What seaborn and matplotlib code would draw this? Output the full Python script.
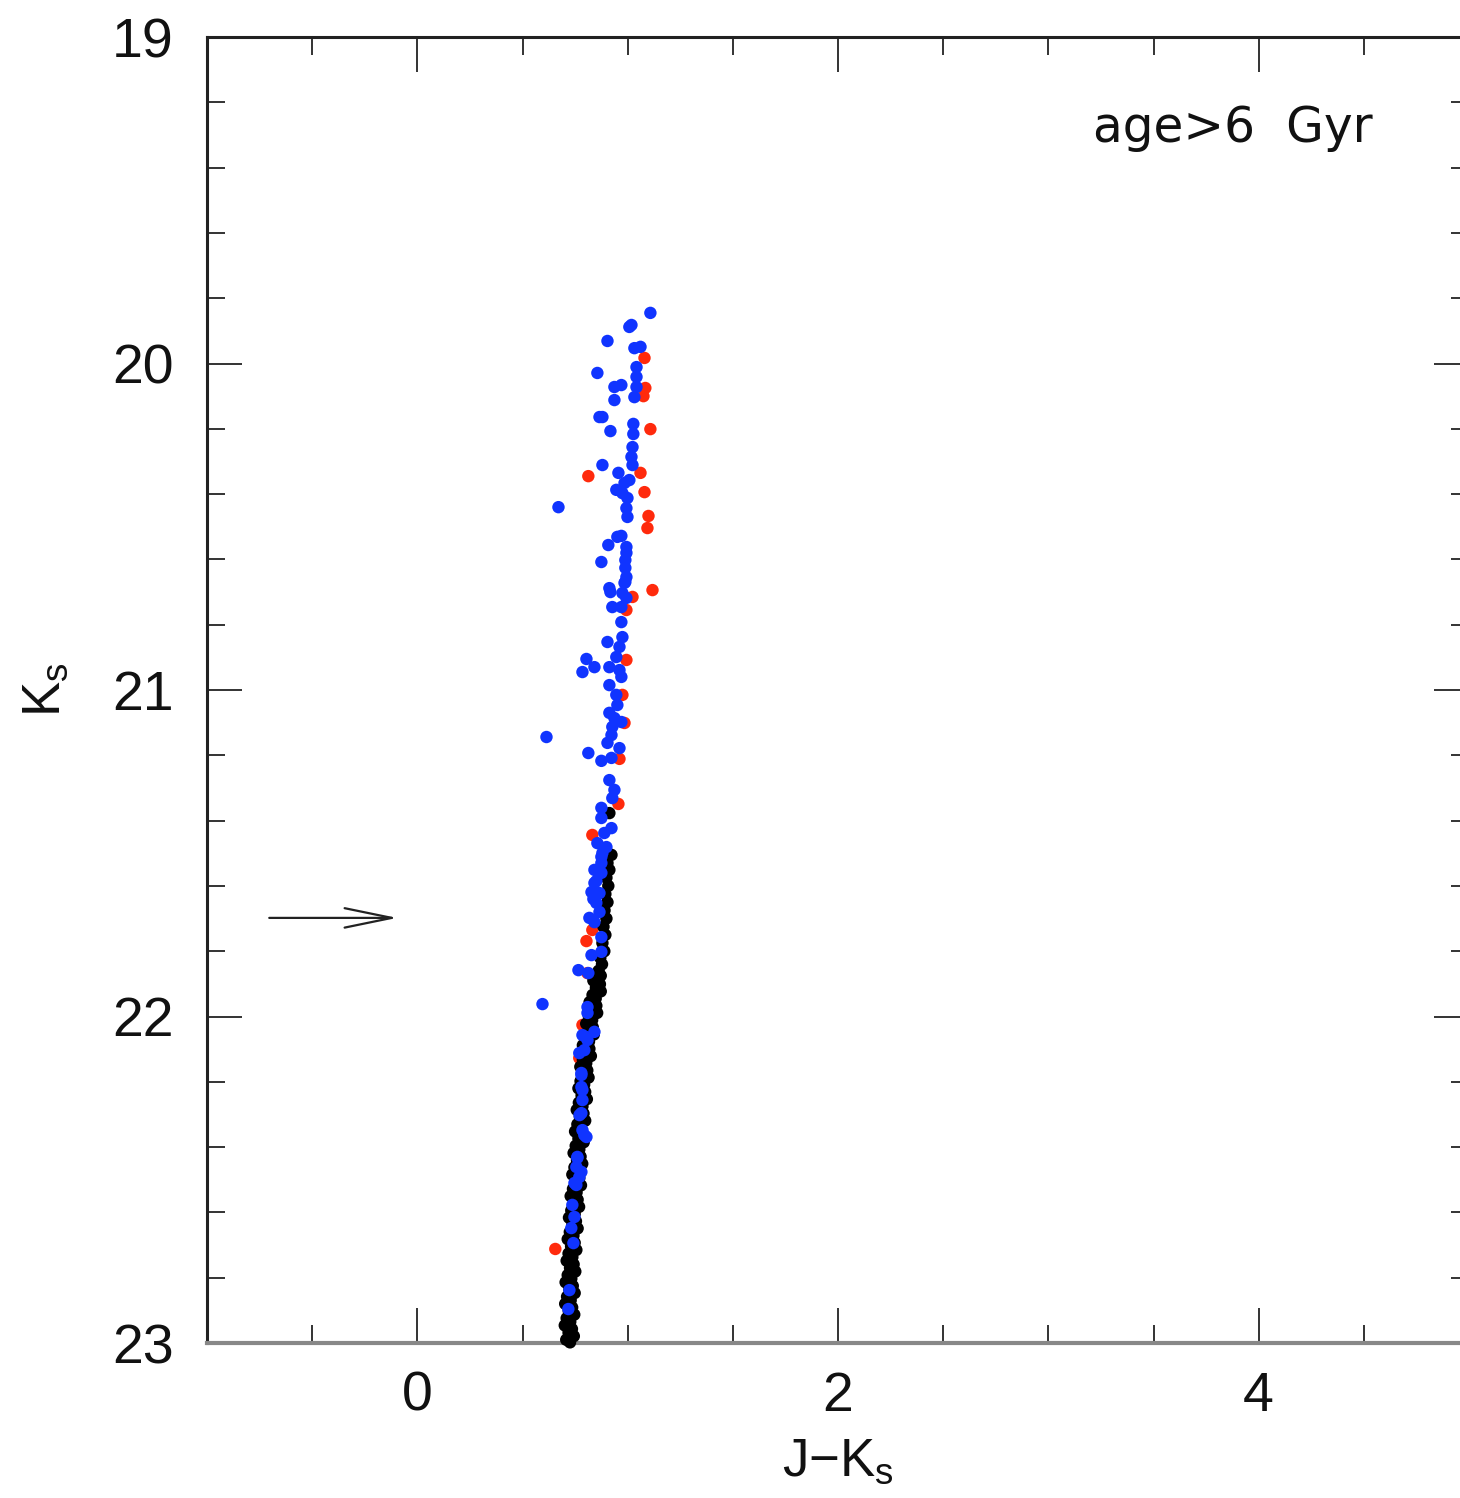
import numpy as np
import pandas as pd
import matplotlib
matplotlib.use("Agg")
import matplotlib.pyplot as plt
from matplotlib.ticker import MultipleLocator
import seaborn as sns

# ---------------- data (J-Ks colour, Ks magnitude) ----------------
blue_x = [1.108, 1.008, 1.018, 0.904, 1.032, 1.061, 0.856, 1.042, 1.042, 0.937,
          0.970, 1.042, 1.032, 0.937, 0.866, 0.880, 0.918, 1.027, 1.027, 1.023,
          1.018, 1.023, 0.880, 0.956, 1.008, 0.985, 0.946, 0.975, 0.999, 0.671,
          0.994, 0.999, 0.951, 0.970, 0.908, 0.994, 0.994, 0.875, 0.989, 0.989,
          0.994, 0.985, 0.913, 0.989, 0.918, 0.975, 0.994, 0.927, 0.970, 0.970,
          0.975, 0.904, 0.961, 0.946, 0.804, 0.842, 0.785, 0.913, 0.961, 0.970,
          0.913, 0.946, 0.951, 0.913, 0.937, 0.970, 0.927, 0.923, 0.614, 0.904,
          0.961, 0.813, 0.875, 0.923, 0.913, 0.937, 0.927, 0.875, 0.875, 0.923,
          0.889, 0.856, 0.899, 0.875, 0.842, 0.875, 0.880, 0.875, 0.842, 0.828,
          0.866, 0.851, 0.866, 0.818, 0.842, 0.875, 0.828, 0.875, 0.766, 0.809,
          0.809, 0.595, 0.842, 0.804, 0.794, 0.780, 0.785, 0.785, 0.771, 0.794,
          0.761, 0.780, 0.756, 0.737, 0.747, 0.732, 0.742, 0.723, 0.718, 0.785,
          0.809, 0.770, 0.780, 0.780, 0.780, 0.785, 0.804, 0.761, 0.756, 0.770,
          0.747, 0.813, 0.851, 0.837]
blue_k = [19.845, 19.888, 19.882, 19.931, 19.953, 19.949, 20.029, 20.011, 20.041, 20.072,
          20.066, 20.072, 20.103, 20.112, 20.164, 20.164, 20.207, 20.185, 20.216, 20.256,
          20.286, 20.311, 20.311, 20.335, 20.357, 20.366, 20.387, 20.397, 20.412, 20.440,
          20.443, 20.470, 20.531, 20.528, 20.556, 20.562, 20.580, 20.608, 20.602, 20.626,
          20.654, 20.672, 20.688, 20.669, 20.700, 20.703, 20.718, 20.746, 20.746, 20.792,
          20.838, 20.853, 20.868, 20.899, 20.905, 20.930, 20.945, 20.930, 20.939, 20.960,
          20.985, 21.015, 21.046, 21.070, 21.086, 21.098, 21.113, 21.138, 21.144, 21.162,
          21.178, 21.193, 21.217, 21.208, 21.276, 21.306, 21.331, 21.361, 21.392, 21.423,
          21.438, 21.469, 21.481, 21.511, 21.551, 21.560, 21.499, 21.530, 21.591, 21.619,
          21.622, 21.652, 21.680, 21.698, 21.711, 21.757, 21.812, 21.802, 21.858, 21.971,
          21.989, 21.962, 22.047, 22.063, 22.103, 22.179, 22.225, 22.256, 22.302, 22.363,
          22.433, 22.476, 22.516, 22.577, 22.614, 22.648, 22.694, 22.838, 22.896, 22.057,
          22.072, 22.112, 22.173, 22.216, 22.296, 22.348, 22.369, 22.430, 22.461, 22.492,
          22.510, 21.867, 21.585, 21.640]

red_x = [1.080, 1.084, 1.075, 1.108, 0.813, 1.061, 1.080, 1.099, 1.094, 1.118,
         1.023, 0.994, 0.994, 0.975, 0.985, 0.961, 0.956, 0.832, 0.832, 0.804,
         0.809, 0.785, 0.770, 0.656]
red_k = [19.983, 20.075, 20.100, 20.201, 20.345, 20.335, 20.394, 20.467, 20.504, 20.694,
         20.715, 20.755, 20.908, 21.015, 21.101, 21.211, 21.349, 21.444, 21.735, 21.769,
         21.867, 22.026, 22.127, 22.712]

black_x = [0.913, 0.923, 0.904, 0.913, 0.899, 0.908, 0.894, 0.904, 0.890, 0.899,
           0.885, 0.894, 0.880, 0.889, 0.870, 0.878, 0.862, 0.872,
           0.837, 0.868, 0.849, 0.872, 0.833, 0.848, 0.819, 0.851, 0.832, 0.855,
           0.816, 0.831, 0.803, 0.834, 0.815, 0.839, 0.800, 0.816, 0.787, 0.818,
           0.800, 0.825, 0.787, 0.803, 0.775, 0.808, 0.790, 0.814, 0.776, 0.793,
           0.766, 0.798, 0.781, 0.806, 0.768, 0.785, 0.758, 0.790, 0.773, 0.798,
           0.761, 0.777, 0.750, 0.783, 0.766, 0.791, 0.753, 0.770, 0.743, 0.776,
           0.759, 0.784, 0.747, 0.764, 0.737, 0.770, 0.753, 0.778, 0.740, 0.757,
           0.729, 0.762, 0.745, 0.769, 0.732, 0.748, 0.721, 0.754, 0.737, 0.762,
           0.725, 0.742, 0.715, 0.748, 0.731, 0.756, 0.719, 0.737, 0.710, 0.743,
           0.726, 0.751, 0.715, 0.732, 0.705, 0.739, 0.723, 0.748, 0.712, 0.729,
           0.703, 0.736, 0.720, 0.746, 0.710, 0.727, 0.701, 0.735, 0.719, 0.744,
           0.708, 0.726]
black_k = [21.377, 21.505, 21.530, 21.551, 21.575, 21.600, 21.625, 21.650, 21.675, 21.700,
           21.725, 21.750, 21.775, 21.800, 21.820, 21.840, 21.860, 21.875,
           21.890, 21.901, 21.912, 21.923, 21.934, 21.945, 21.956, 21.967, 21.978, 21.989,
           22.000, 22.011, 22.022, 22.033, 22.044, 22.055, 22.066, 22.077, 22.088, 22.099,
           22.110, 22.121, 22.132, 22.143, 22.154, 22.165, 22.176, 22.187, 22.198, 22.209,
           22.220, 22.231, 22.242, 22.253, 22.264, 22.275, 22.286, 22.297, 22.308, 22.319,
           22.330, 22.341, 22.352, 22.363, 22.374, 22.385, 22.396, 22.407, 22.418, 22.429,
           22.440, 22.451, 22.462, 22.473, 22.484, 22.495, 22.506, 22.517, 22.528, 22.539,
           22.550, 22.561, 22.572, 22.583, 22.594, 22.605, 22.616, 22.627, 22.638, 22.649,
           22.660, 22.671, 22.682, 22.693, 22.704, 22.715, 22.726, 22.737, 22.748, 22.759,
           22.770, 22.781, 22.792, 22.803, 22.814, 22.825, 22.836, 22.847, 22.858, 22.869,
           22.880, 22.891, 22.902, 22.913, 22.924, 22.935, 22.946, 22.957, 22.968, 22.979,
           22.990, 22.998]

x_ticks = [0, 2, 4]
y_ticks = [19, 20, 21, 22, 23]
panel_text = "age>6  Gyr"
arrow_k = 21.698
arrow_from, arrow_to = -0.704, -0.095

# ---------------- plotting ----------------
sns.set_style("ticks")
plt.rcParams["font.family"] = ["Liberation Sans", "DejaVu Sans"]
plt.rcParams["mathtext.default"] = "regular"

df = pd.concat([
    pd.DataFrame({"JK": red_x, "Ks": red_k, "grp": "red"}),
    pd.DataFrame({"JK": black_x, "Ks": black_k, "grp": "black"}),
    pd.DataFrame({"JK": blue_x, "Ks": blue_k, "grp": "blue"}),
], ignore_index=True)

fig = plt.figure(figsize=(14.60, 14.98), dpi=100)
ax = fig.add_axes([207 / 1460, 155 / 1498, 1262 / 1460, 1306 / 1498])

sns.scatterplot(data=df, x="JK", y="Ks", hue="grp",
                palette={"red": "#ff2a0c", "black": "#000000", "blue": "#1034ff"},
                s=80, linewidth=0, legend=False, ax=ax, clip_on=False, zorder=3)

ax.set_xlim(-1, 5)
ax.set_ylim(23, 19)
ax.set_xticks(x_ticks)
ax.set_yticks(y_ticks)
ax.xaxis.set_minor_locator(MultipleLocator(0.5))
ax.yaxis.set_minor_locator(MultipleLocator(0.2))

ax.tick_params(which="both", direction="in", top=True, right=True,
               color="#333333", width=1.4)
ax.tick_params(which="major", length=25, labelsize=40, labelcolor="#111111")
ax.tick_params(axis="y", which="major", pad=24)
ax.tick_params(axis="x", which="major", pad=20)
ax.tick_params(which="minor", length=13)

for side in ["left", "top", "right"]:
    ax.spines[side].set_linewidth(2.2)
    ax.spines[side].set_color("#222222")
ax.spines["bottom"].set_linewidth(3)
ax.spines["bottom"].set_color("#888888")

ax.set_xlabel("J\u2212K$_s$", fontsize=38, color="#111111")
ax.set_ylabel("K$_s$", fontsize=38, color="#111111")
ax.xaxis.set_label_coords(0.5, -0.072)
ax.yaxis.set_label_coords(-0.108, 0.5)

ax.text(4.54, 19.28, panel_text, ha="right", va="center", fontsize=35,
        family=["DejaVu Sans"], color="#111111")

ax.annotate("", xy=(arrow_to, arrow_k), xytext=(arrow_from, arrow_k),
            arrowprops=dict(arrowstyle="->,head_length=3.4,head_width=0.7",
                            mutation_scale=10, lw=1.6, color="#222222",
                            shrinkA=0, shrinkB=0))

fig.savefig("out.png", dpi=100)
